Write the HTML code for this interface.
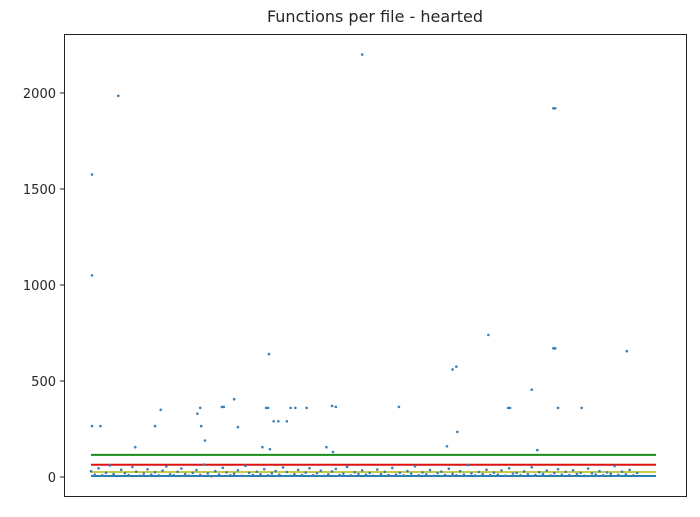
<!DOCTYPE html>
<html><head><meta charset="utf-8"><style>
html,body{margin:0;padding:0;background:#fff;}
svg text{font-family:"DejaVu Sans","Liberation Sans",sans-serif;fill:#262626;}
</style></head><body>
<svg id="chart" width="700" height="512">
<text x="375" y="22" text-anchor="middle" font-size="16">Functions per file - hearted</text>
<g id="lines"></g>
<g id="points"></g>
<g id="axes"></g>
<rect x="64.5" y="34.5" width="622" height="462" fill="none" stroke="#222" stroke-width="1"/>
</svg>
<script>
const yTicks=[0,500,1000,1500,2000];
const outlierIdx=[1,1,1,10,29,47,68,74,113,116,117,121,139,141,152,156,182,186,188,189,190,194,199,208,212,217,229,250,256,257,260,288,327,378,384,388,389,422,443,445,468,474,491,493,491,493,496,521,569];
const outlierVal=[1575,1050,265,265,1985,155,265,350,330,360,265,190,365,365,405,260,155,360,360,640,145,290,290,290,360,360,360,155,370,130,365,2200,365,160,560,575,235,740,360,360,455,140,1920,1920,670,670,360,360,655];
const smallVal=[30,12,45,8,22,60,15,5,38,20,10,52,28,6,18,40,12,25,8,33,55,14,9,27,44,16,7,21,36,11,65,19,4,30,13,48,24,9,17,35,6,58,22,10,28,14,41,8,19,31,12,50,26,7,15,37,10,23,46,9,20,33,6,14,29,42,11,18,53,8,25,16,34,12,21,7,39,15,27,10,47,13,22,8,31,18,56,9,24,14,36,6,20,28,11,43,17,9,30,13,62,19,8,26,15,38,10,23,12,34,7,45,18,21,9,29,14,51,11,25,16,33,8,20,40,12,27,10,35,15,22,6,44,19,13,30,9,24,17,57,11,28,14,37,8,21];
const smallStep=4;
const hLines=[115,64,26,5];
const hColors=["#1a8a1a","#e01010","#c9c84a","#2e7fb0"];
const nIdx=600;
const X0=91,X1=656,YTOP=34,YBOT=496,DMIN=-99,DMAX=2307;
function xs(i){return X0+(X1-X0)*i/nIdx;}
function ys(v){return YBOT-(v-DMIN)/(DMAX-DMIN)*(YBOT-YTOP);}
const NS="http://www.w3.org/2000/svg";
const ax=document.getElementById('axes');
yTicks.forEach(t=>{
 const y=ys(t);
 const l=document.createElementNS(NS,'line');
 l.setAttribute('x1',60);l.setAttribute('x2',64);l.setAttribute('y1',y);l.setAttribute('y2',y);l.setAttribute('stroke','#222');
 
 
 ax.appendChild(l);
 const tx=document.createElementNS(NS,'text');
 tx.setAttribute('x',56);tx.setAttribute('y',y+5);tx.setAttribute('text-anchor','end');tx.setAttribute('font-size','13');
 tx.textContent=t;
 
 
 ax.appendChild(tx);
});
const lg=document.getElementById('lines');
hLines.forEach((v,k)=>{
 const l=document.createElementNS(NS,'line');
 l.setAttribute('x1',xs(0));l.setAttribute('x2',xs(nIdx));l.setAttribute('y1',ys(v));l.setAttribute('y2',ys(v));
 l.setAttribute('stroke',hColors[k]);l.setAttribute('stroke-width',2);
 
 
 lg.appendChild(l);
});
const pg=document.getElementById('points');
function dot(i,v){
 const c=document.createElementNS(NS,'circle');
 c.setAttribute('cx',xs(i));c.setAttribute('cy',ys(v));c.setAttribute('r',1.3);c.setAttribute('fill','#3a7fb5');
 
 
 pg.appendChild(c);
}
smallVal.forEach((v,k)=>dot(k*smallStep,v));
outlierIdx.forEach((i,k)=>dot(i,outlierVal[k]));
</script>
</body></html>
